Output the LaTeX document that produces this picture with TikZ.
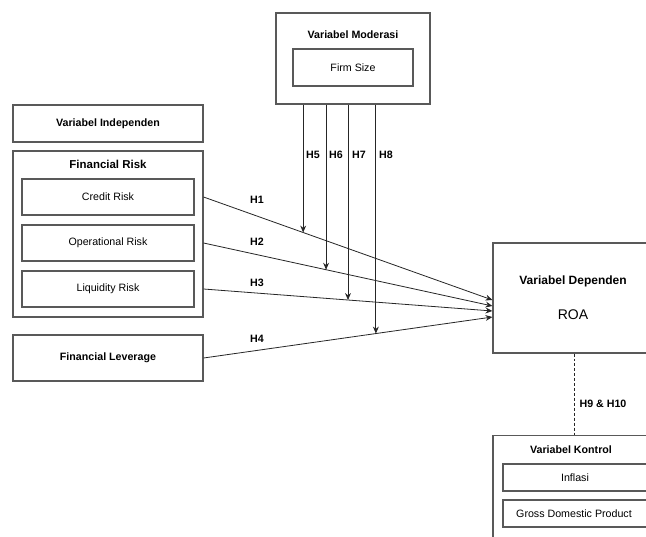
\documentclass[tikz,border=0pt]{standalone}
\usepackage{fontspec}
\setmainfont{Liberation Sans}
\usetikzlibrary{calc,arrows.meta}
\begin{document}
\begin{tikzpicture}[x=0.75pt,y=-0.75pt,
  box/.style={draw=black!65,line width=0.85pt,inner sep=0pt,fill=white},
  lbl/.style={font=\fontsize{8}{9.6}\selectfont\bfseries,inner sep=0pt},
  txt/.style={font=\fontsize{8}{9.6}\selectfont,inner sep=0pt},
  conn/.style={draw=black!85,line width=0.6pt,-{Stealth[length=5.2pt,width=4.4pt]}},
  ]
\useasboundingbox (0,0) rectangle (646,536);
\clip (0,0) rectangle (646,536);
\fill[white] (0,0) rectangle (646,536);
% moderation
\node[box,minimum width=115.5pt,minimum height=68.25pt] (mod) at (353,58.5) {};
\node[lbl] (modt) at (353,35) {Variabel Moderasi};
\node[box,minimum width=90pt,minimum height=27.75pt] (firm) at (353,67.5) {};
\node[txt] (firmt) at (353,67.5) {Firm Size};
% independent
\node[box,minimum width=142.5pt,minimum height=27.75pt] (indep) at (108,123.5) {};
\node[lbl] (indept) at (108,123.5) {Variabel Independen};
\node[box,minimum width=142.5pt,minimum height=124.5pt] (fin) at (108,234) {};
\node[lbl,font=\fontsize{8.6}{10.3}\selectfont\bfseries] (fint) at (108,164) {Financial Risk};
\node[box,minimum width=129pt,minimum height=27pt] (credit) at (108,197) {};
\node[txt] (creditt) at (108,197) {Credit Risk};
\node[box,minimum width=129pt,minimum height=27pt] (oper) at (108,243) {};
\node[txt] (opert) at (108,243) {Operational Risk};
\node[box,minimum width=129pt,minimum height=27pt] (liq) at (108,289) {};
\node[txt] (liqt) at (108,289) {Liquidity Risk};
\node[box,minimum width=142.5pt,minimum height=34.5pt] (lev) at (108,358) {};
\node[lbl] (levt) at (108,358) {Financial Leverage};
% dependent
\node[box,minimum width=120pt,minimum height=82.5pt] (roa) at (573,298) {};
\node[lbl,font=\fontsize{9}{10.8}\selectfont\bfseries] (roat) at (573,281) {Variabel Dependen};
\node[txt,font=\fontsize{10.5}{12.6}\selectfont] (roav) at (573,315) {ROA};
% control
\node[box,minimum width=123pt,minimum height=82pt] (kon) at (575,490.5) {};
\node[lbl] (kont) at (571,450) {Variabel Kontrol};
\node[box,minimum width=108.75pt,minimum height=20.25pt] (inf) at (575.5,477.5) {};
\node[txt] (inft) at (575,477.5) {Inflasi};
\node[box,minimum width=108.75pt,minimum height=20.25pt] (gdp) at (575.5,513.5) {};
\node[txt] (gdpt) at (574,513.5) {Gross Domestic Product};
% connector endpoints
\coordinate (s1) at (credit.east -| fin.east);
\coordinate (s2) at (oper.east -| fin.east);
\coordinate (s3) at (liq.east -| fin.east);
\coordinate (s4) at (lev.east);
\coordinate (e1) at ($(roa.west)+(0,2)$);
\coordinate (e2) at ($(roa.west)+(0,8)$);
\coordinate (e3) at ($(roa.west)+(0,13)$);
\coordinate (e4) at ($(roa.west)+(0,19)$);
\draw[conn] (s1) -- (e1);
\draw[conn] (s2) -- (e2);
\draw[conn] (s3) -- (e3);
\draw[conn] (s4) -- (e4);
\node[lbl] (h1) at (257,200) {H1};
\node[lbl] (h2) at (257,242) {H2};
\node[lbl] (h3) at (257,283) {H3};
\node[lbl] (h4) at (257,339) {H4};
% moderation arrows
\coordinate (m5) at ($(s1)!{100/290}!(e1)$);
\coordinate (m6) at ($(s2)!{123/290}!(e2)$);
\coordinate (m7) at ($(s3)!{145/290}!(e3)$);
\coordinate (m8) at ($(s4)!{173/290}!(e4)$);
\draw[conn] (m5 |- mod.south) -- (m5);
\draw[conn] (m6 |- mod.south) -- (m6);
\draw[conn] (m7 |- mod.south) -- (m7);
\draw[conn] (m8 |- mod.south) -- (m8);
\node[lbl] (h5) at (313,155) {H5};
\node[lbl] (h6) at (336,155) {H6};
\node[lbl] (h7) at (359,155) {H7};
\node[lbl] (h8) at (386,155) {H8};
% control link
\coordinate (d1) at (574,353);
\draw[black!85,line width=0.6pt,dashed,dash pattern=on 2.2pt off 1.5pt] (d1 |- roa.south) -- (d1 |- kon.north);
\node[lbl] (h910) at (603,404) {H9 \& H10};
\end{tikzpicture}
\end{document}
